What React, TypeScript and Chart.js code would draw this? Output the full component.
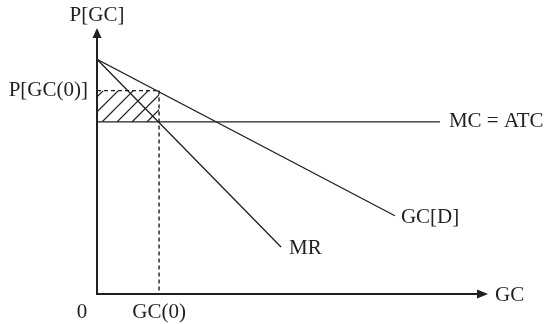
import React, { useEffect, useRef } from "react";
import { Chart, registerables } from "chart.js";

Chart.register(...registerables);

// ---- data (chart units) ----
const xRange = [0, 12.6];
const yRange = [0, 10.2];
const demandX = [0, 9.6];
const demandY = [9.0, 3.0];
const mrX = [0, 5.93];
const mrY = [9.0, 1.8];
const mcX = [0, 11.05];
const mcY = [6.6, 6.6];
const gc0 = 2.0;
const p0 = 7.8;
const axisTitles = ["GC", "P[GC]"];
const tickLabels = ["0", "GC(0)", "P[GC(0)]"];
const curveLabels = ["GC[D]", "MR", "MC = ATC"];

const INK = "#231f20";
const FONT = '21px "Liberation Serif", "Times New Roman", serif';

const toPts = (xs: number[], ys: number[]) => xs.map((x, i) => ({ x, y: ys[i] }));

const diagramPlugin = {
  id: "diagram",
  beforeDatasetsDraw(chart: any) {
    const { ctx, scales } = chart;
    const xs = scales.x, ys = scales.y;
    const left = xs.getPixelForValue(0);
    const right = xs.getPixelForValue(gc0);
    const top = ys.getPixelForValue(p0);
    const bottom = ys.getPixelForValue(mcY[0]);
    ctx.save();
    ctx.beginPath();
    ctx.rect(left, top, right - left, bottom - top);
    ctx.clip();
    ctx.strokeStyle = INK;
    ctx.lineWidth = 1.3;
    const h = bottom - top;
    for (let c = left - 40; c < right + 40; c += 15) {
      ctx.beginPath();
      ctx.moveTo(c, bottom);
      ctx.lineTo(c + h, top);
      ctx.stroke();
    }
    ctx.restore();
  },
  afterDatasetsDraw(chart: any) {
    const { ctx, scales, chartArea } = chart;
    const xs = scales.x, ys = scales.y;
    const ox = xs.getPixelForValue(0);
    const oy = ys.getPixelForValue(0);
    const tipY = chartArea.top;
    const tipX = chartArea.right;
    ctx.save();
    ctx.strokeStyle = INK;
    ctx.fillStyle = INK;
    ctx.lineWidth = 2;
    // y axis
    ctx.beginPath();
    ctx.moveTo(ox, oy + 1);
    ctx.lineTo(ox, tipY + 8);
    ctx.stroke();
    ctx.beginPath();
    ctx.moveTo(ox, tipY);
    ctx.lineTo(ox - 4.5, tipY + 10);
    ctx.lineTo(ox + 4.5, tipY + 10);
    ctx.closePath();
    ctx.fill();
    // x axis
    ctx.beginPath();
    ctx.moveTo(ox - 1, oy);
    ctx.lineTo(tipX - 8, oy);
    ctx.stroke();
    ctx.beginPath();
    ctx.moveTo(tipX, oy);
    ctx.lineTo(tipX - 11, oy - 4.5);
    ctx.lineTo(tipX - 11, oy + 4.5);
    ctx.closePath();
    ctx.fill();

    // labels
    ctx.font = FONT;
    ctx.textBaseline = "middle";
    ctx.textAlign = "center";
    ctx.fillText(axisTitles[1], ox, tipY - 13);
    ctx.fillText(tickLabels[0], ox - 15, oy + 18);
    ctx.fillText(tickLabels[1], xs.getPixelForValue(gc0), oy + 18);
    ctx.textAlign = "right";
    ctx.fillText(tickLabels[2], ox - 9, ys.getPixelForValue(p0));
    ctx.textAlign = "left";
    ctx.fillText(axisTitles[0], tipX + 7, oy + 1);
    ctx.fillText(curveLabels[0], xs.getPixelForValue(demandX[1]) + 6, ys.getPixelForValue(demandY[1]) + 2);
    ctx.fillText(curveLabels[1], xs.getPixelForValue(mrX[1]) + 8, ys.getPixelForValue(mrY[1]) + 1);
    ctx.fillText(curveLabels[2], xs.getPixelForValue(mcX[1]) + 9, ys.getPixelForValue(mcY[1]));
    ctx.restore();
  },
};

export default function App() {
  const ref = useRef<HTMLCanvasElement>(null);
  useEffect(() => {
    const line = (data: any[], dash: number[] = [], w = 1.3) => ({
      data,
      showLine: true,
      borderColor: INK,
      borderWidth: w,
      borderDash: dash,
      pointRadius: 0,
      fill: false,
      tension: 0,
    });
    const chart = new Chart(ref.current as HTMLCanvasElement, {
      type: "scatter",
      data: {
        datasets: [
          line(toPts(demandX, demandY)),
          line(toPts(mrX, mrY)),
          line(toPts(mcX, mcY)),
          line([{ x: 0, y: p0 }, { x: gc0, y: p0 }], [4, 3], 1.4),
          line([{ x: gc0, y: p0 }, { x: gc0, y: 0 }], [4, 3], 1.4),
        ] as any,
      },
      options: {
        animation: false,
        responsive: false,
        events: [],
        layout: { padding: { left: 97, right: 56, top: 28, bottom: 30 } },
        plugins: { legend: { display: false }, tooltip: { enabled: false } },
        scales: {
          x: { type: "linear", display: false, min: xRange[0], max: xRange[1] },
          y: { type: "linear", display: false, min: yRange[0], max: yRange[1] },
        },
      } as any,
      plugins: [diagramPlugin],
    });
    return () => chart.destroy();
  }, []);
  return (
    <div style={{ position: "absolute", left: 0, top: 0, width: 544, height: 324, background: "#fff" }}>
      <canvas ref={ref} width={544} height={324} />
    </div>
  );
}
